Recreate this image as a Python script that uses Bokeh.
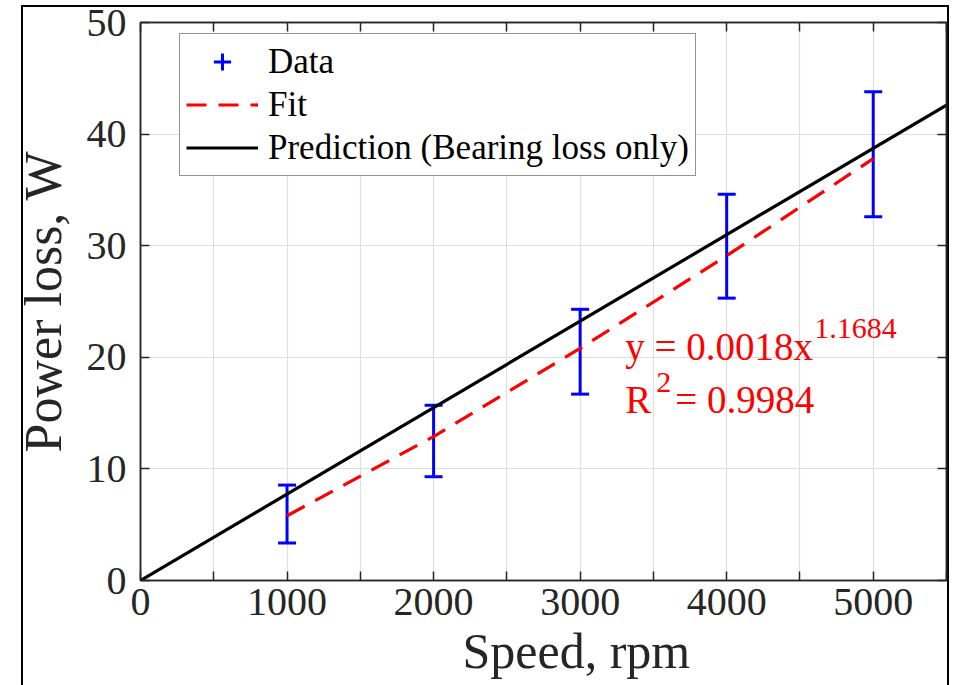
from bokeh.plotting import figure
from bokeh.models import (ColumnDataSource, Whisker, TeeHead, Legend, LegendItem,
                          FixedTicker, LinearAxis, Label, Range1d, Title)
from bokeh.embed import file_html
from bokeh.resources import INLINE

# ---- data ----
speed = [1000, 2000, 3000, 4000, 5000]
power_mean = [5.95, 12.5, 20.5, 29.95, 38.2]
power_err = [2.6, 3.2, 3.8, 4.65, 5.6]
fit_speed = [1000, 2000, 3000, 4000, 5000]
fit_power = [5.8, 12.9, 20.8, 29.1, 37.8]
pred_speed = [0, 5500]
pred_power = [0, 42.6]
x_major = [0, 1000, 2000, 3000, 4000, 5000]
x_minor = [500, 1500, 2500, 3500, 4500, 5500]
y_ticks = [0, 10, 20, 30, 40, 50]

FONT = "Liberation Serif"
AX = "#262626"
GRID = "#dedede"

p = figure(width=953, height=685, output_backend="svg", toolbar_location=None,
           x_range=Range1d(0, 5500), y_range=Range1d(0, 50),
           min_border_left=140, min_border_right=7, min_border_top=22, min_border_bottom=105)
p.background_fill_color = "white"
p.border_fill_color = None
# outer frame of the reference screenshot (left, right and top lines)
p.styles = {
    "background": ("linear-gradient(#000,#000) 21px 5px / 2px 700px no-repeat, "
                   "linear-gradient(#000,#000) 947px 5px / 2px 700px no-repeat, "
                   "linear-gradient(#000,#000) 21px 5px / 928px 2px no-repeat, #fff"),
}
p.outline_line_color = AX
p.outline_line_width = 1.5

# axes
xt = FixedTicker(ticks=x_major, minor_ticks=x_minor)
yt = FixedTicker(ticks=y_ticks)
for ax in list(p.xaxis) + list(p.yaxis):
    ax.major_tick_in = 9
    ax.major_tick_out = 0
    ax.minor_tick_in = 9
    ax.minor_tick_out = 0
    ax.axis_line_color = AX
    ax.axis_line_width = 1.5
    ax.major_tick_line_color = AX
    ax.major_tick_line_width = 1.5
    ax.minor_tick_line_color = AX
    ax.minor_tick_line_width = 1.5
    ax.major_label_text_font = FONT
    ax.major_label_text_font_size = "40px"
    ax.major_label_text_color = AX
p.xaxis.ticker = xt
p.yaxis.ticker = yt
p.xaxis.major_label_standoff = 8
p.yaxis.major_label_standoff = 14
p.yaxis.axis_label = "Power loss, W"
p.yaxis.axis_label_text_font = FONT
p.yaxis.axis_label_text_font_size = "52px"
p.yaxis.axis_label_text_font_style = "normal"
p.yaxis.axis_label_text_color = AX
p.yaxis.axis_label_standoff = 12

# box axes (top / right): tick marks only, no labels
top_ticker = FixedTicker(ticks=[], minor_ticks=x_major + x_minor)
right_ticker = FixedTicker(ticks=[], minor_ticks=y_ticks)
for tk, loc in ((top_ticker, "above"), (right_ticker, "right")):
    a = LinearAxis(ticker=tk, major_tick_in=0, major_tick_out=0, minor_tick_in=9, minor_tick_out=0,
                   axis_line_color=AX, axis_line_width=1.5, minor_tick_line_color=AX,
                   minor_tick_line_width=1.5, major_label_standoff=0)
    p.add_layout(a, loc)

p.xgrid.ticker = xt
p.ygrid.ticker = yt
p.xgrid.grid_line_color = GRID
p.xgrid.minor_grid_line_color = GRID
p.ygrid.grid_line_color = GRID
p.xgrid.grid_line_width = 1.2
p.xgrid.minor_grid_line_width = 1.2
p.ygrid.grid_line_width = 1.2

# x-axis label (placed as in the reference, slightly right of centre)
p.add_layout(Title(text="Speed, rpm", align="left", offset=322, standoff=7,
                   text_font=FONT, text_font_size="50px", text_font_style="normal",
                   text_color=AX), "below")

# data
lower = [m - e for m, e in zip(power_mean, power_err)]
upper = [m + e for m, e in zip(power_mean, power_err)]
src = ColumnDataSource(dict(x=speed, y=power_mean, lower=lower, upper=upper))

pred = p.line(pred_speed, pred_power, line_color="black", line_width=3.2)
fit = p.line(fit_speed, fit_power, line_color="red", line_width=3.2, line_dash="20 12")
wh = Whisker(base="x", upper="upper", lower="lower", source=src, line_color="blue", line_width=3,
             upper_head=TeeHead(size=18, line_color="blue", line_width=3),
             lower_head=TeeHead(size=18, line_color="blue", line_width=3))
p.add_layout(wh)
data_icon = p.scatter("x", "y", source=src, marker="cross", line_color="blue", line_width=3,
                      size=30, visible=False)

legend = Legend(items=[LegendItem(label="Data", renderers=[data_icon]),
                       LegendItem(label="Fit", renderers=[fit]),
                       LegendItem(label="Prediction (Bearing loss only)", renderers=[pred])],
                location=(39, 404), margin=0, padding=6, spacing=0,
                label_height=43, glyph_height=43, glyph_width=72, label_standoff=10,
                label_text_font=FONT, label_text_font_size="35px", label_text_color="black",
                border_line_color=AX, border_line_width=1.2, background_fill_alpha=1)
p.add_layout(legend)

# fit annotation
RED = "#ff0000"
ann = dict(text_font=FONT, text_color=RED, text_baseline="alphabetic", text_align="left")
p.add_layout(Label(x=3308, y=21.0, text="y = 0.0018x", text_font_size="39px", **ann))
p.add_layout(Label(x=3308, y=22.6, x_offset=189, text="1.1684", text_font_size="30px", **ann))
p.add_layout(Label(x=3308, y=16.25, text="R", text_font_size="39px", **ann))
p.add_layout(Label(x=3308, y=17.7, x_offset=31, text="2", text_font_size="30px", **ann))
p.add_layout(Label(x=3308, y=16.25, x_offset=50, text="= 0.9984", text_font_size="39px", **ann))

open("out.html", "w").write(file_html(p, INLINE))
